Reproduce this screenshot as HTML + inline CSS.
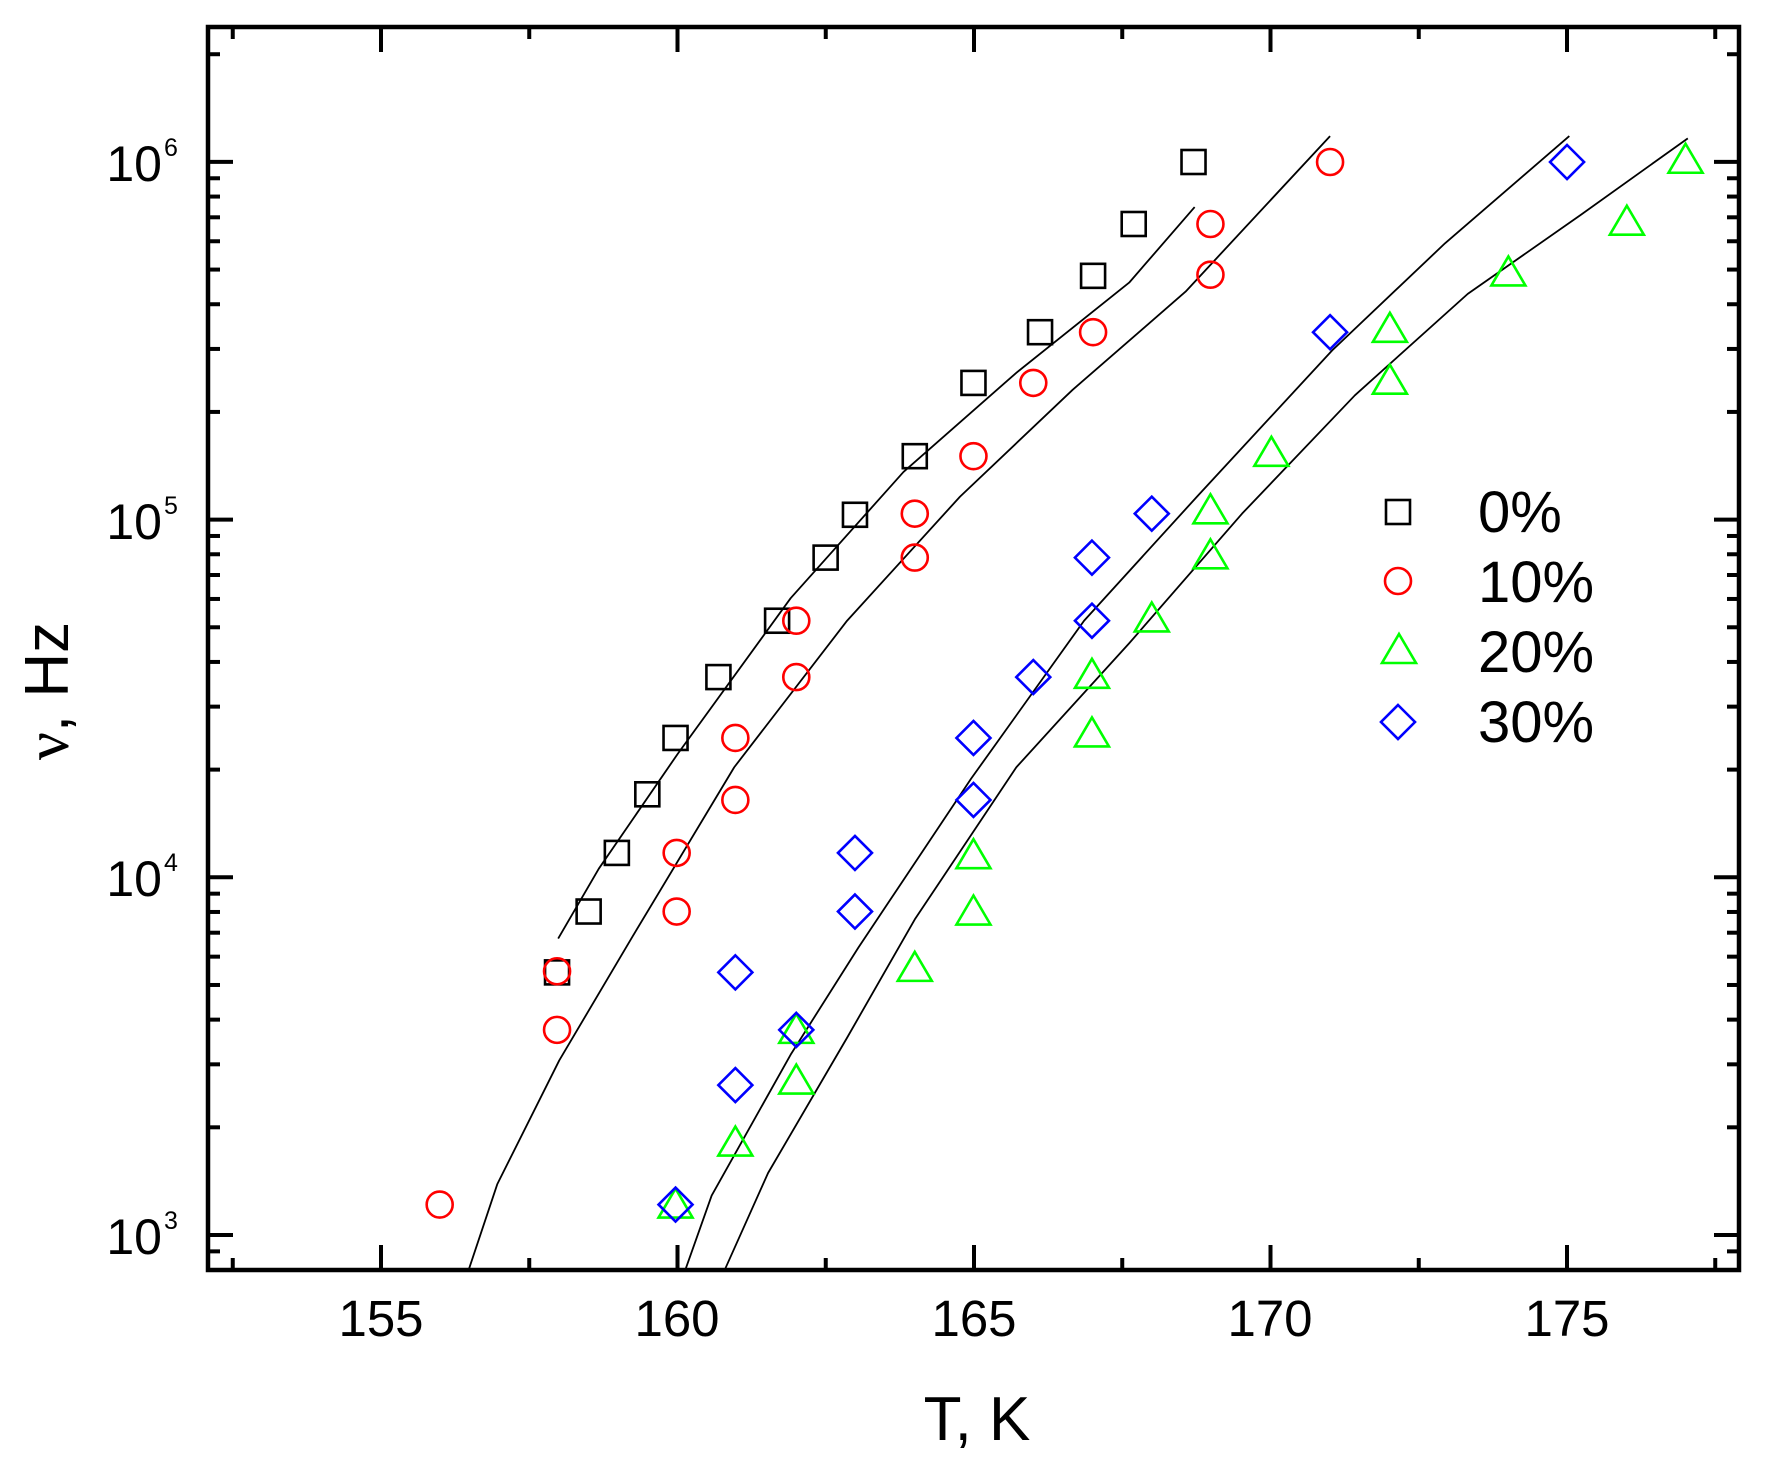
<!DOCTYPE html>
<html><head><meta charset="utf-8"><style>
html,body{margin:0;padding:0;background:#fff;}
svg{display:block;}
text{font-family:"Liberation Sans",Arial,sans-serif;fill:#000;}
</style></head><body>
<svg id="s" width="1768" height="1473" viewBox="0 0 1768 1473" xmlns="http://www.w3.org/2000/svg">
<rect x="0" y="0" width="1768" height="1473" fill="#fff"/>
<g id="ticks" stroke="#000" stroke-width="4"></g>
<g id="curves" fill="none" stroke="#000" stroke-width="1.8" stroke-linejoin="round"></g>
<g id="pts" fill="none" stroke-width="2.6"></g>
<rect x="208" y="27" width="1531" height="1243" fill="none" stroke="#000" stroke-width="4.5"/>
<g font-size="51" text-anchor="middle">
<text x="381" y="1336">155</text><text x="677" y="1336">160</text><text x="974" y="1336">165</text><text x="1270" y="1336">170</text><text x="1567" y="1336">175</text>
</g>
<g font-size="50">
<text x="162" y="181" text-anchor="end">10</text><text x="164" y="156" font-size="25">6</text>
<text x="162" y="539" text-anchor="end">10</text><text x="164" y="514" font-size="25">5</text>
<text x="162" y="896" text-anchor="end">10</text><text x="164" y="871" font-size="25">4</text>
<text x="162" y="1254" text-anchor="end">10</text><text x="164" y="1229" font-size="25">3</text>
</g>
<text x="977" y="1440" font-size="62" text-anchor="middle">T, K</text>
<text transform="translate(68,691) rotate(-90)" font-size="62" text-anchor="middle"><tspan font-family="Liberation Serif,serif">ν</tspan>, Hz</text>
<g font-size="58">
<text x="1478" y="532">0%</text><text x="1478" y="602">10%</text><text x="1478" y="672">20%</text><text x="1478" y="742">30%</text>
</g>
</svg>
<script>
const NS="http://www.w3.org/2000/svg";
function el(p,t,a){const e=document.createElementNS(NS,t);for(const k in a)e.setAttribute(k,a[k]);p.appendChild(e);return e;}
const X=x=>381+(x-337)*1.1285, Y=y=>162+(y-143)*1.1271;
const tk=document.getElementById('ticks');
const xT=T=>381+(T-155)*59.3, yV=l=>1235-(l-3)*357.7;
for(let T=152.5;T<=177.6;T+=2.5){const x=xT(T);const maj=Math.abs(T%5)<0.01;const L=maj?25:12;
 el(tk,'line',{x1:x,y1:1270,x2:x,y2:1270-L});el(tk,'line',{x1:x,y1:27,x2:x,y2:27+L});}
for(let d=2;d<=6;d++){for(let m=1;m<=9;m++){const l=d+Math.log10(m);const y=yV(l);if(y<30||y>1268)continue;const L=m==1?25:12;
 el(tk,'line',{x1:208,y1:y,x2:208+L,y2:y});el(tk,'line',{x1:1739,y1:y,x2:1739-L,y2:y});}}
const cv=document.getElementById('curves');
const curves=[
[[494,832],[530,770],[600,668],[700,530],[800,418],[900,330],[1000,250],[1058,183]],
[[415,1125],[440,1050],[495,940],[560,830],[650,680],[750,550],[850,440],[950,345],[1050,258],[1178,120]],
[[607,1125],[630,1060],[700,935],[760,840],[860,690],[960,550],[1060,440],[1180,310],[1280,215],[1390,120]],
[[642,1125],[680,1040],[750,920],[810,815],[900,680],[1000,570],[1100,455],[1200,350],[1300,260],[1400,190],[1495,122]]];
curves.forEach(c=>el(cv,'polyline',{points:c.map(p=>X(p[0])+','+Y(p[1])).join(' ')}));
const pg=document.getElementById('pts');
function sq(x,y){el(pg,'rect',{x:x-12,y:y-12,width:24,height:24,stroke:'#000'});}
function ci(x,y){el(pg,'circle',{cx:x,cy:y,r:13,stroke:'#f00'});}
function tr(x,y){el(pg,'polygon',{points:`${x},${y-16} ${x+17},${y+13} ${x-17},${y+13}`,stroke:'#0f0'});}
function di(x,y){el(pg,'polygon',{points:`${x},${y-17} ${x+17},${y} ${x},${y+17} ${x-17},${y}`,stroke:'#00f'});}
const S=[[493,862],[521,808],[546,756],[573,704],[598,654],[636,600],[688,550],[731,494],[757,456],[810,404],[862,339],[921,294],[968,244],[1004,198],[1057,143]];
const C=[[389,1068],[493,913],[493,861],[599,808],[599,756],[651,709],[651,654],[705,600],[705,550],[810,494],[810,455],[862,404],[915,339],[968,294],[1072,243],[1072,198],[1178,143]];
const Tr=[[598,1068],[651,1013],[705,913],[705,958],[810,858],[862,808],[862,758],[967,650],[967,598],[1020,548],[1072,492],[1072,452],[1126,401],[1231,337],[1231,291],[1336,241],[1441,196],[1493,141]];
const D=[[598,1068],[651,962],[651,862],[705,913],[757,808],[757,756],[862,709],[862,654],[915,600],[967,550],[967,494],[1020,455],[1178,294],[1388,143]];
S.forEach(p=>sq(X(p[0]),Y(p[1])));C.forEach(p=>ci(X(p[0]),Y(p[1])));Tr.forEach(p=>tr(X(p[0]),Y(p[1])));D.forEach(p=>di(X(p[0]),Y(p[1])));
sq(1398,512);ci(1398,581);tr(1399,650);di(1398,722);
</script>
</body></html>
